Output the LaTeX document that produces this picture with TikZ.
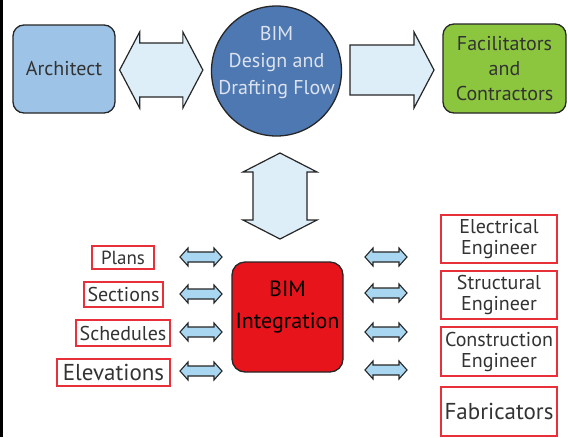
\documentclass[tikz,border=0pt]{standalone}
\usepackage{fontspec}
\setmainfont{PT Sans}
\usetikzlibrary{calc}

\definecolor{archblue}{HTML}{9DC3E6}
\definecolor{flowblue}{HTML}{4E78B2}
\definecolor{flowtext}{HTML}{DCE3EE}
\definecolor{facgreen}{HTML}{8CC63F}
\definecolor{integred}{HTML}{E8141C}
\definecolor{bigarrow}{HTML}{DDEEF8}
\definecolor{smallarrow}{HTML}{A9D6F0}
\definecolor{outline}{HTML}{262626}
\definecolor{labelred}{HTML}{E8303A}
\definecolor{labeltext}{HTML}{333333}

% horizontal double block arrow between two tip coordinates:
% [style]{from}{to}{shaft half height}{head half height}{head length}
\newcommand\hdblarrow[6][]{%
  \filldraw[#1] (#2) -- ($(#2)+(#6,-#5)$) -- ($(#2)+(#6,-#4)$) -- ($(#3)+(-#6,-#4)$)
    -- ($(#3)+(-#6,-#5)$) -- (#3) -- ($(#3)+(-#6,#5)$) -- ($(#3)+(-#6,#4)$)
    -- ($(#2)+(#6,#4)$) -- ($(#2)+(#6,#5)$) -- cycle;}
% vertical double block arrow between two tip coordinates (top to bottom)
\newcommand\vdblarrow[6][]{%
  \filldraw[#1] (#2) -- ($(#2)+(#5,#6)$) -- ($(#2)+(#4,#6)$) -- ($(#3)+(#4,-#6)$)
    -- ($(#3)+(#5,-#6)$) -- (#3) -- ($(#3)+(-#5,-#6)$) -- ($(#3)+(-#4,-#6)$)
    -- ($(#2)+(-#4,#6)$) -- ($(#2)+(-#5,#6)$) -- cycle;}

\tikzset{
  roundbox/.style={draw=outline, line width=1.3pt, rounded corners=11pt,
    align=center, inner sep=0pt},
  labelbox/.style={draw=labelred, line width=1.2pt, fill=white,
    text=labeltext, align=center, inner sep=0pt},
  bigarr/.style={fill=bigarrow, draw=outline, line width=1.2pt, line join=miter},
  smallarr/.style={fill=smallarrow, draw=outline, line width=1.1pt, line join=miter},
  fs/.style 2 args={font=\fontsize{#1}{#2}\selectfont},
}

\begin{document}
\begin{tikzpicture}[x=1pt, y=-1pt]
  % canvas and the dark strip on the left edge
  \fill[white] (0,0) rectangle (568,437);
  \fill[black] (0,0) rectangle (3,437);
  \useasboundingbox (0,0) rectangle (568,437);

  % top row
  \node[roundbox, fill=archblue, minimum width=102pt, minimum height=88pt,
        fs={20}{22}, text=labeltext] (arch) at (64,69) {Architect};
  \node[circle, draw=outline, line width=1.3pt, fill=flowblue, minimum size=130pt,
        inner sep=0pt] (flow) at (276.5,71) {};
  \node[align=center, text=flowtext, fs={20}{27}, inner sep=0pt] (flowtxt)
        at ($(flow.center)+(0,-8)$) {BIM\\Design and\\Drafting Flow};
  \node[roundbox, fill=facgreen, minimum width=123pt, minimum height=89pt,
        fs={20}{25}, text=labeltext] (fac) at (504.5,68.5) {Facilitators\\and\\Contractors};

  % centre block
  \node[roundbox, fill=integred, minimum width=111pt, minimum height=110pt,
        rounded corners=13pt] (integ) at (287.5,317) {};
  \node[align=center, text=black, fs={22}{32}, inner sep=0pt] (integtxt)
        at ($(integ.center)+(0,-10)$) {BIM\\Integration};

  % outputs on the left
  \node[labelbox, minimum width=62pt, minimum height=23pt, fs={19}{21}] (plans) at (123,257.5) {Plans};
  \node[labelbox, minimum width=79pt, minimum height=25pt, fs={20}{22}] (sections) at (123.5,294.5) {Sections};
  \node[labelbox, minimum width=94pt, minimum height=26pt, fs={20}{22}] (schedules) at (123,333) {Schedules};
  \node[labelbox, minimum width=113pt, minimum height=27pt, fs={23}{25}] (elevations) at (113.5,372.5) {Elevations};

  % participants on the right
  \node[labelbox, minimum width=116pt, minimum height=48pt, fs={20}{21}] (elec) at (499,239) {Electrical\\Engineer};
  \node[labelbox, minimum width=116pt, minimum height=48pt, fs={20}{21}] (struct) at (499,295) {Structural\\Engineer};
  \node[labelbox, minimum width=116pt, minimum height=49pt, fs={20}{21}] (constr) at (499,351.5) {Construction\\Engineer};
  \node[labelbox, minimum width=116pt, minimum height=49pt, fs={23}{25}] (fab) at (499,411.5) {Fabricators};

  % big block arrows
  \coordinate (archR) at ($(arch.east)+(4,1)$);
  \coordinate (flowL) at ($(flow.west)+(-8,-1)$);
  \hdblarrow[bigarr]{archR}{flowL}{27}{38}{20}

  \coordinate (flowR) at (350,70);
  \coordinate (facL) at (434,70);
  \filldraw[bigarr] ($(flowR)+(0,-25)$) -- ($(facL)+(-20,-25)$) -- ($(facL)+(-20,-38)$)
    -- (facL) -- ($(facL)+(-20,38)$) -- ($(facL)+(-20,25)$) -- ($(flowR)+(0,25)$) -- cycle;

  \coordinate (flowB) at (280,153);
  \coordinate (integT) at (280,239);
  \vdblarrow[bigarr]{flowB}{integT}{27}{37}{19}

  % small double arrows, left column
  \foreach \n/\yy in {plans/257, sections/294, schedules/332, elevations/371} {
    \coordinate (\n-a) at (180,\yy);
    \coordinate (\n-b) at (222,\yy);
    \hdblarrow[smallarr]{\n-a}{\n-b}{5}{9}{8}
  }
  % small double arrows, right column
  \foreach \n/\yy in {elec/257, struct/293, constr/332, fab/370} {
    \coordinate (\n-a) at (365,\yy);
    \coordinate (\n-b) at (407,\yy);
    \hdblarrow[smallarr]{\n-a}{\n-b}{5}{9}{8}
  }
\end{tikzpicture}
\end{document}
